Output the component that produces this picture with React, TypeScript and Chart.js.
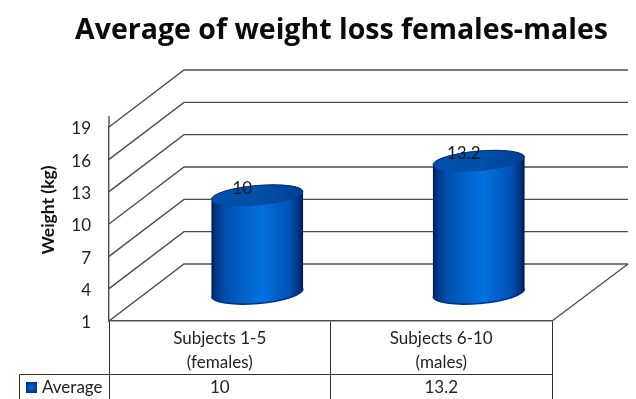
import React, { useEffect, useRef } from "react";
import { Chart, registerables } from "chart.js";

Chart.register(...registerables);

const chartTitle = "Average of weight loss females-males";
const axisTitle = "Weight (kg)";
const seriesName = "Average";
const categories = [
  ["Subjects 1-5", "(females)"],
  ["Subjects 6-10", "(males)"],
];
const averages = [10, 13.2];
const averageLabels = ["10", "13.2"];
const weightTicks = [1, 4, 7, 10, 13, 16, 19];

const FONT = "Lato, 'Open Sans', sans-serif";
const TITLE_FONT = "'Open Sans', Lato, sans-serif";
const LINE = "#4d4d4d";
const DEPTH_X = 75;
const DEPTH_Y = 57;
const FRONT_LEFT = 109;
const FRONT_TOP = 127;
const FRONT_BOTTOM = 321;
const FRONT_RIGHT = 552;
const TABLE_LEFT = 19;
const TABLE_ROW_Y = 374;
const TILT = (-5 * Math.PI) / 180;
const RIM = 10;

// Receding walls and floor, hung off the y scale's ticks.
const wallsPlugin = {
  id: "walls",
  beforeDatasetsDraw(chart: any) {
    const { ctx, scales } = chart;
    const { left, right, top, bottom } = chart.chartArea;
    ctx.save();
    ctx.strokeStyle = LINE;
    ctx.lineWidth = 1.4;
    for (const tick of scales.y.ticks) {
      const y = scales.y.getPixelForValue(tick.value);
      ctx.beginPath();
      ctx.moveTo(left, y);
      ctx.lineTo(left + DEPTH_X, y - DEPTH_Y);
      ctx.lineTo(right + DEPTH_X + 1, y - DEPTH_Y);
      ctx.stroke();
    }
    ctx.beginPath();
    ctx.moveTo(right, bottom);
    ctx.lineTo(right + DEPTH_X + 1, bottom - DEPTH_Y);
    ctx.stroke();
    ctx.beginPath();
    ctx.moveTo(left, top - 11);
    ctx.lineTo(left, top);
    ctx.stroke();

    // Axis title sits level with the middle of the drawn depth, not the scale box.
    ctx.translate(48, 210);
    ctx.rotate(-Math.PI / 2);
    ctx.fillStyle = "#111111";
    ctx.font = `bold 17.5px ${FONT}`;
    ctx.textAlign = "center";
    ctx.textBaseline = "middle";
    ctx.fillText(axisTitle, 0, 0);
    ctx.restore();
  },
};

// Each bar element is redrawn as a cylinder standing in the middle of the floor.
const cylinderPlugin = {
  id: "cylinders",
  afterDatasetsDraw(chart: any) {
    const { ctx } = chart;
    const bars = chart.getDatasetMeta(0).data;
    bars.forEach((bar: any, i: number) => {
      const cx = bar.x + DEPTH_X / 2;
      const topY = bar.y - DEPTH_Y / 2;
      const baseY = bar.base - DEPTH_Y / 2;
      const a = bar.width / 2;
      const side = ctx.createLinearGradient(cx - a, 0, cx + a, 0);
      side.addColorStop(0, "#00174f");
      side.addColorStop(0.04, "#00347f");
      side.addColorStop(0.16, "#0050ae");
      side.addColorStop(0.55, "#0072e0");
      side.addColorStop(0.85, "#0052b4");
      side.addColorStop(0.96, "#002f7c");
      side.addColorStop(1, "#001548");

      ctx.save();
      ctx.beginPath();
      ctx.ellipse(cx, baseY, a, RIM + 1, TILT, 0, Math.PI);
      ctx.ellipse(cx, topY, a, RIM, TILT, Math.PI, 2 * Math.PI);
      ctx.closePath();
      ctx.fillStyle = side;
      ctx.fill();

      ctx.beginPath();
      ctx.ellipse(cx, baseY, a, RIM + 1, TILT, 0, Math.PI);
      ctx.strokeStyle = "#00308c";
      ctx.lineWidth = 1.5;
      ctx.stroke();

      const cap = ctx.createLinearGradient(cx - a, 0, cx + a, 0);
      cap.addColorStop(0, "#0050ac");
      cap.addColorStop(0.5, "#0050aa");
      cap.addColorStop(1, "#003f92");
      ctx.beginPath();
      ctx.ellipse(cx, topY, a, RIM, TILT, 0, 2 * Math.PI);
      ctx.fillStyle = cap;
      ctx.fill();
      ctx.strokeStyle = "#002d78";
      ctx.lineWidth = 1;
      ctx.beginPath();
      ctx.ellipse(cx, topY, a, RIM, TILT, Math.PI, 2 * Math.PI);
      ctx.stroke();

      ctx.fillStyle = "#1a1a1a";
      ctx.font = `17px ${FONT}`;
      ctx.textAlign = "center";
      ctx.textBaseline = "middle";
      ctx.fillText(averageLabels[i], cx - 15, topY - 7);
      ctx.restore();
    });
  },
};

// Data table under the axis: a rule, the legend key and one value per category.
const dataTablePlugin = {
  id: "dataTable",
  afterDraw(chart: any) {
    const { ctx, scales, height } = chart;
    const rowMid = TABLE_ROW_Y + 14;
    ctx.save();
    ctx.strokeStyle = "#333333";
    ctx.lineWidth = 1;
    ctx.beginPath();
    ctx.moveTo(TABLE_LEFT + 0.5, height);
    ctx.lineTo(TABLE_LEFT + 0.5, TABLE_ROW_Y + 0.5);
    ctx.lineTo(FRONT_RIGHT, TABLE_ROW_Y + 0.5);
    ctx.stroke();

    const swatch = ctx.createRadialGradient(31.5, rowMid - 0.5, 1, 31.5, rowMid - 0.5, 8);
    swatch.addColorStop(0, "#0060d0");
    swatch.addColorStop(1, "#001f70");
    ctx.fillStyle = swatch;
    ctx.fillRect(26, rowMid - 6, 11, 11);

    ctx.fillStyle = "#222222";
    ctx.font = `17px ${FONT}`;
    ctx.textBaseline = "middle";
    ctx.textAlign = "left";
    ctx.fillText(seriesName, 42, rowMid);
    ctx.textAlign = "center";
    averageLabels.forEach((label, i) => {
      ctx.fillText(label, scales.x.getPixelForValue(i), rowMid);
    });
    ctx.restore();
  },
};

// The title is centred over the plot and its axis rather than the whole canvas.
const titlePlacementPlugin = {
  id: "titlePlacement",
  afterLayout(chart: any) {
    chart.titleBlock.left = 47;
    chart.titleBlock.right = chart.width;
  },
};

export default function App() {
  const ref = useRef<HTMLCanvasElement>(null);

  useEffect(() => {
    const chart = new Chart(ref.current!, {
      type: "bar",
      data: {
        labels: categories,
        datasets: [
          {
            label: seriesName,
            data: averages,
            base: weightTicks[0],
            backgroundColor: "transparent",
            borderWidth: 0,
            barThickness: 92,
          },
        ],
      },
      options: {
        responsive: false,
        animation: false,
        layout: { padding: { left: 0, right: 84, top: 0, bottom: 0 } },
        plugins: {
          legend: { display: false },
          tooltip: { enabled: false },
          title: {
            display: true,
            text: chartTitle,
            color: "#0a0a0a",
            font: { family: TITLE_FONT, size: 28.5, weight: "bold", lineHeight: 1.2 },
            padding: { top: 14, bottom: FRONT_TOP - 14 - 34.2 },
          },
        },
        scales: {
          x: {
            type: "category",
            afterFit(scale: any) {
              scale.height = 399 - FRONT_BOTTOM;
            },
            border: { display: true, color: LINE, width: 1.4 },
            grid: {
              drawOnChartArea: false,
              drawTicks: true,
              tickLength: 78,
              tickColor: "#333333",
              offset: true,
            },
            ticks: {
              color: "#222222",
              font: { family: FONT, size: 17, lineHeight: "24px" as any },
              padding: -72,
              maxRotation: 0,
              autoSkip: false,
            },
          },
          y: {
            type: "linear",
            min: weightTicks[0],
            max: weightTicks[weightTicks.length - 1],
            afterFit(scale: any) {
              scale.width = FRONT_LEFT;
            },
            afterBuildTicks(scale: any) {
              scale.ticks = weightTicks.map((value) => ({ value }));
            },
            border: { display: true, color: LINE, width: 1.4 },
            grid: { display: false },
            ticks: {
              color: "#222222",
              font: { family: FONT, size: 17 },
              padding: 10,
              labelOffset: 2,
            },
          },
        },
      },
      plugins: [titlePlacementPlugin, wallsPlugin, cylinderPlugin, dataTablePlugin],
    } as any);
    return () => chart.destroy();
  }, []);

  return (
    <canvas
      ref={ref}
      width={636}
      height={399}
      style={{ position: "fixed", left: 0, top: 0, display: "block", background: "#fff" }}
    />
  );
}
